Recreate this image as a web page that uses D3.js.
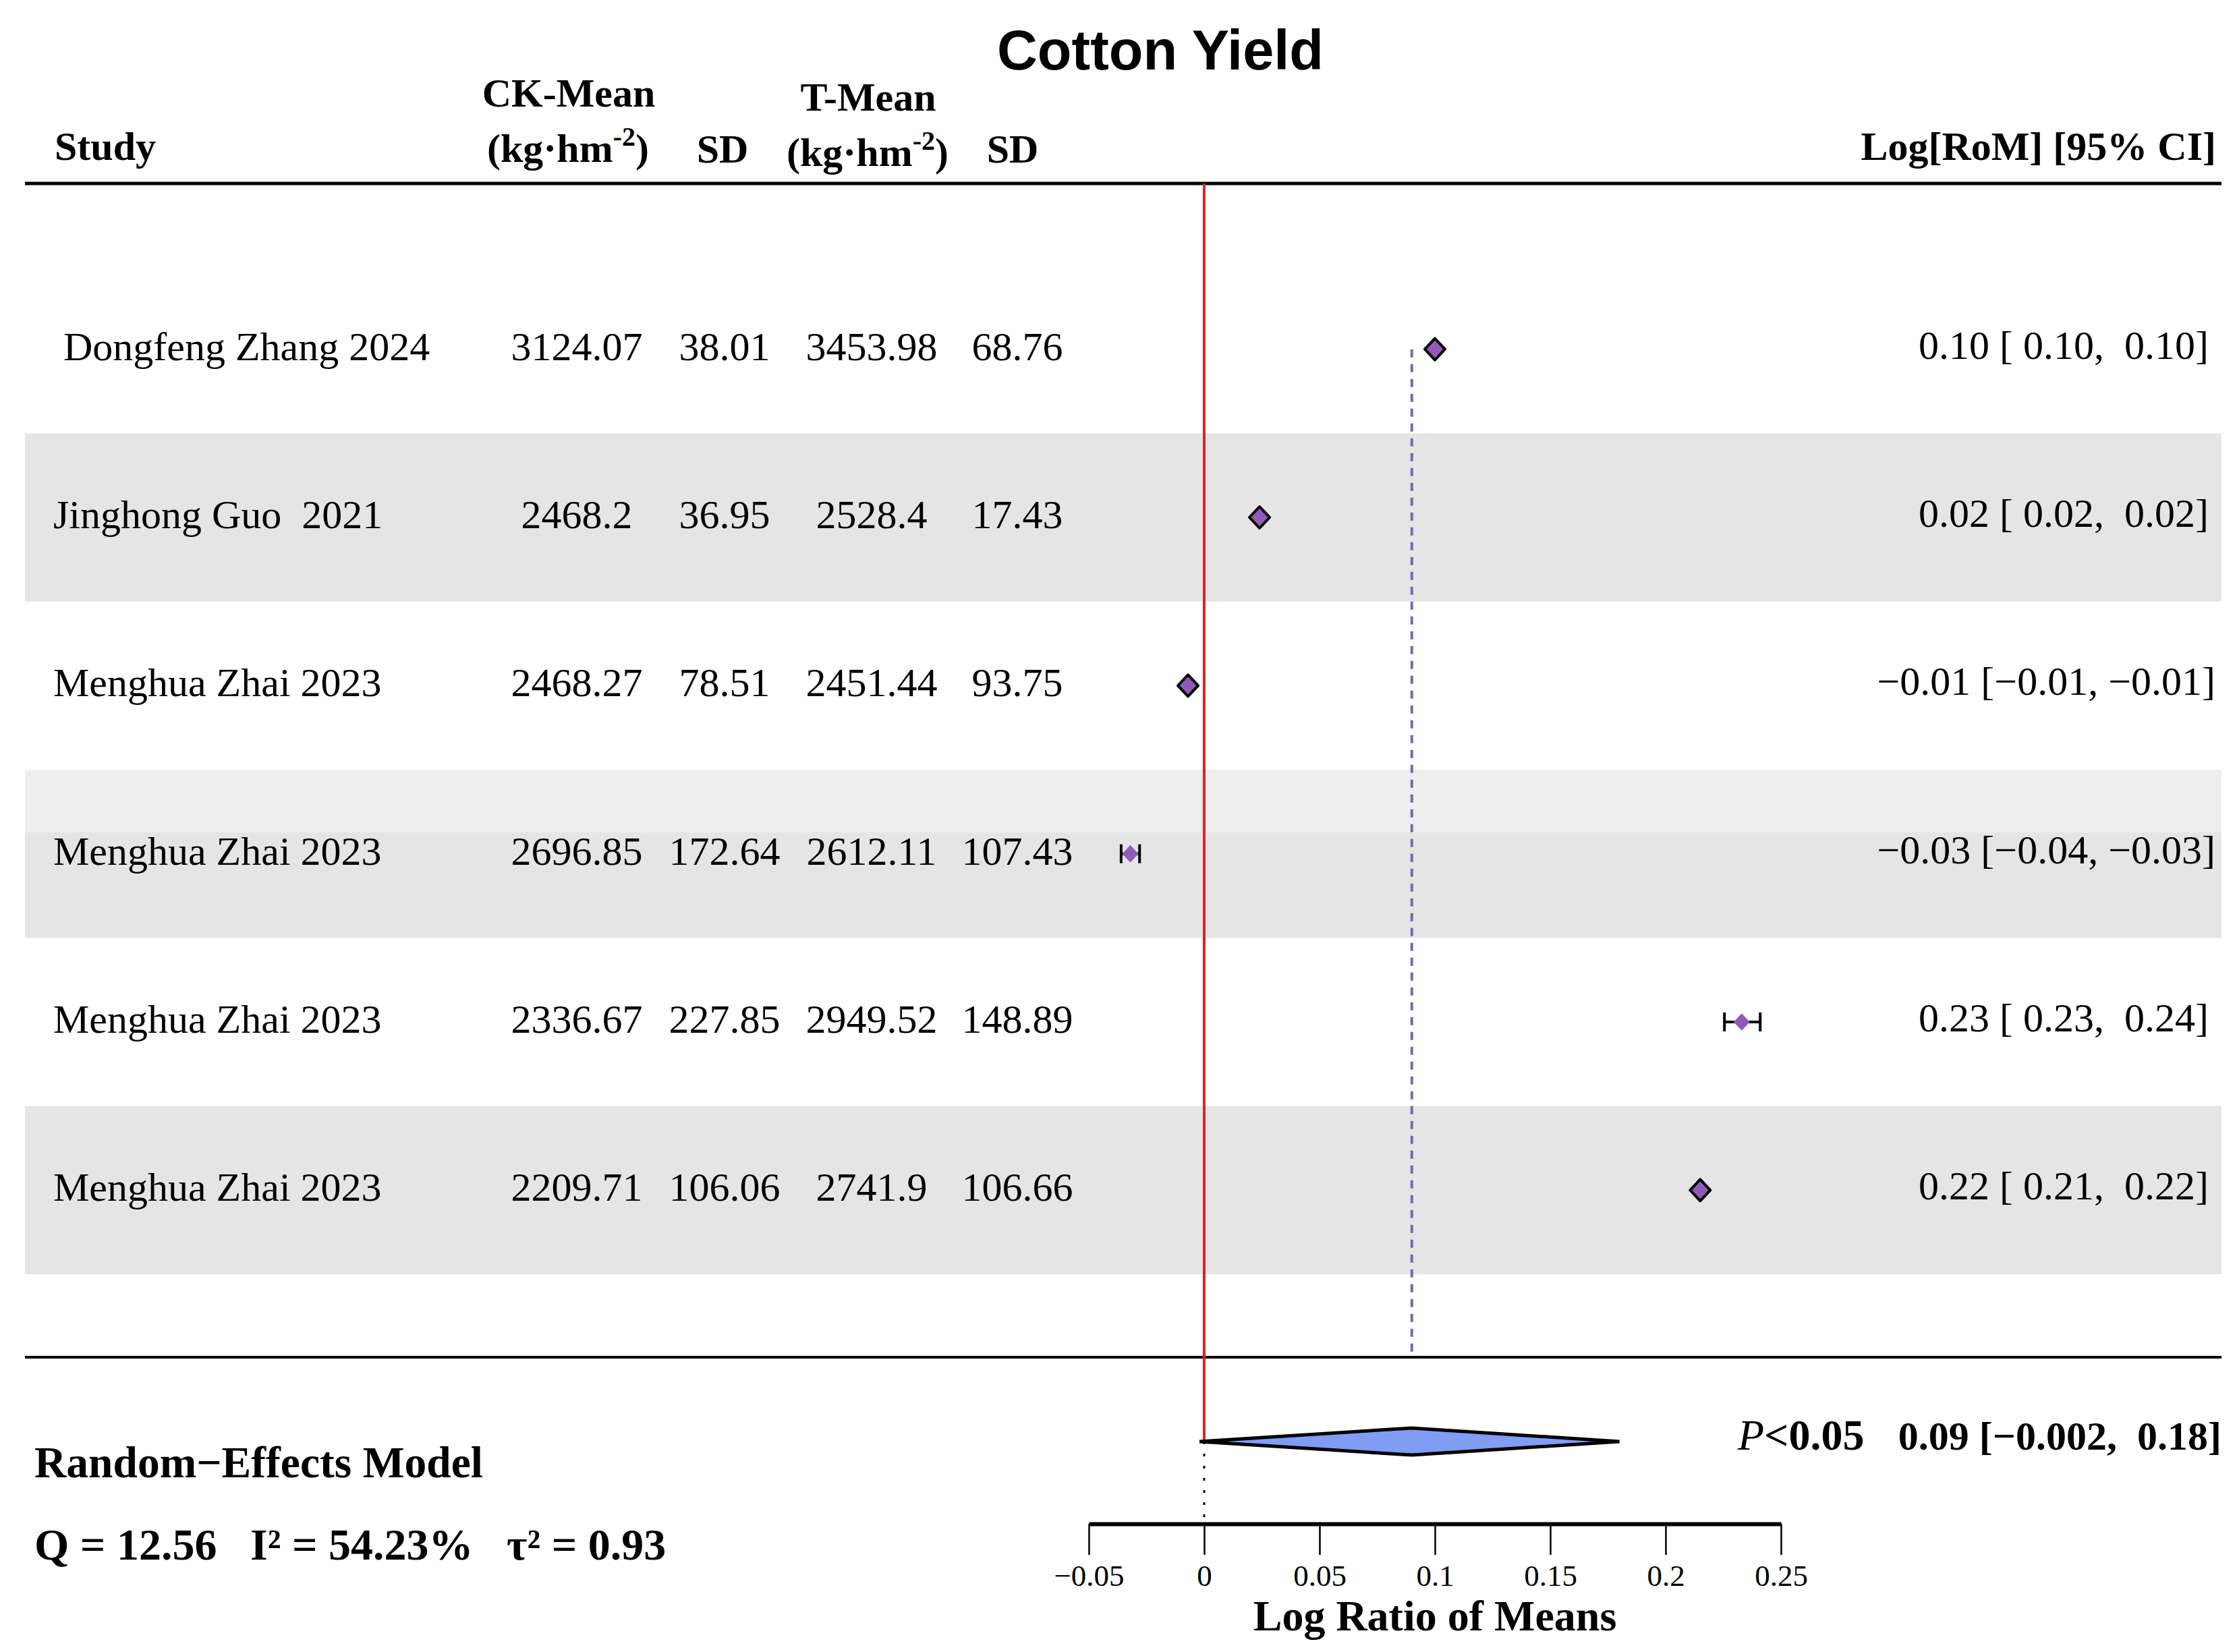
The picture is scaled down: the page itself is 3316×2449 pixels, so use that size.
<!DOCTYPE html>
<html>
<head>
<meta charset="utf-8">
<script src="https://cdn.jsdelivr.net/npm/d3@7"></script>
<style>
  body { margin: 0; background: #fff; }
  text { font-family: "Liberation Serif", "Times New Roman", serif; white-space: pre; }
</style>
</head>
<body>
<div id="graph-container"></div>
<script>
const studies = [' Dongfeng Zhang 2024', 'Jinghong Guo  2021', 'Menghua Zhai 2023',
  'Menghua Zhai 2023', 'Menghua Zhai 2023', 'Menghua Zhai 2023'];
const ckMean = [3124.07, 2468.2, 2468.27, 2696.85, 2336.67, 2209.71];
const ckSD = [38.01, 36.95, 78.51, 172.64, 227.85, 106.06];
const tMean = [3453.98, 2528.4, 2451.44, 2612.11, 2949.52, 2741.9];
const tSD = [68.76, 17.43, 93.75, 107.43, 148.89, 106.66];

const logRoM = [0.100, 0.024, -0.007, -0.032, 0.233, 0.215];
const ciLow = [0.098, 0.022, -0.009, -0.036, 0.2255, 0.212];
const ciHigh = [0.102, 0.026, -0.005, -0.028, 0.241, 0.218];
const ciText = ['0.10 [ 0.10,  0.10]', '0.02 [ 0.02,  0.02]', '\u22120.01 [\u22120.01, \u22120.01]',
  '\u22120.03 [\u22120.04, \u22120.03]', '0.23 [ 0.23,  0.24]', '0.22 [ 0.21,  0.22]'];

const summaryEst = 0.09;
const summaryLow = -0.002;
const summaryHigh = 0.18;
const summaryText = '0.09 [\u22120.002,  0.18]';
const modelStats = 'Q = 12.56   I\u00b2 = 54.23%   \u03c4\u00b2 = 0.93';
const xTicks = [-0.05, 0, 0.05, 0.1, 0.15, 0.2, 0.25];

const W = 3316, H = 2449;
const left = 37, right = 3293;
const purple = '#9159b9';

const svg = d3.select('#graph-container')
  .append('svg')
  .attr('width', W)
  .attr('height', H);

svg.append('rect').attr('width', W).attr('height', H).attr('fill', '#fff');

const x = d3.scaleLinear().domain([-0.05, 0.25]).range([1614, 2640]);
const y = d3.scaleBand().domain(d3.range(studies.length)).range([393, 1889]).padding(0);
const yc = i => y(i) + y.bandwidth() / 2;

// alternating row shading
svg.selectAll('rect.band')
  .data(d3.range(studies.length).filter(i => i % 2 === 1))
  .enter().append('rect')
  .attr('class', 'band')
  .attr('x', left)
  .attr('y', i => y(i))
  .attr('width', right - left)
  .attr('height', y.bandwidth())
  .attr('fill', '#e5e5e5');
// lighter strip at top of the fourth row
svg.append('rect')
  .attr('x', left).attr('y', y(3))
  .attr('width', right - left).attr('height', 93)
  .attr('fill', '#eeeeee');

// title
svg.append('text')
  .attr('x', 1720).attr('y', 103)
  .attr('text-anchor', 'middle')
  .style('font-family', '"Liberation Sans", Arial, sans-serif')
  .attr('font-weight', 'bold')
  .attr('font-size', 83)
  .text('Cotton Yield');

// column headers
const hdr = svg.append('g').attr('font-weight', 'bold').attr('font-size', 60);
hdr.append('text').attr('x', 81).attr('y', 237).text('Study');
hdr.append('text').attr('x', 843).attr('y', 158).attr('text-anchor', 'middle').text('CK-Mean');
hdr.append('text').attr('x', 1287).attr('y', 164).attr('text-anchor', 'middle').text('T-Mean');
hdr.append('text').attr('x', 1071).attr('y', 241).attr('text-anchor', 'middle').text('SD');
hdr.append('text').attr('x', 1501).attr('y', 241).attr('text-anchor', 'middle').text('SD');
[[842, 240], [1286, 246]].forEach(([cx, cy]) => {
  const t = hdr.append('text').attr('x', cx).attr('y', cy).attr('text-anchor', 'middle');
  t.append('tspan').text('(kg\u00b7hm');
  t.append('tspan').attr('dy', -24).attr('font-size', 40).text('-2');
  t.append('tspan').attr('dy', 24).text(')');
});
hdr.append('text').attr('x', 3285).attr('y', 237).attr('text-anchor', 'end').text('Log[RoM] [95% CI]');

// horizontal rules
svg.append('line').attr('x1', left).attr('x2', right).attr('y1', 272).attr('y2', 272)
  .attr('stroke', '#000').attr('stroke-width', 5);
svg.append('line').attr('x1', left).attr('x2', right).attr('y1', 2012).attr('y2', 2012)
  .attr('stroke', '#000').attr('stroke-width', 4);

// table text
const rows = svg.append('g').attr('font-size', 60);
const cols = [
  { vals: ckMean, x: 855 },
  { vals: ckSD, x: 1074 },
  { vals: tMean, x: 1292 },
  { vals: tSD, x: 1508 }
];
rows.selectAll('text.study')
  .data(studies)
  .enter().append('text')
  .attr('class', 'study')
  .attr('x', 79)
  .attr('y', (d, i) => yc(i) + 16)
  .text(d => d);
cols.forEach(c => {
  rows.selectAll(null)
    .data(c.vals)
    .enter().append('text')
    .attr('x', c.x)
    .attr('y', (d, i) => yc(i) + 16)
    .attr('text-anchor', 'middle')
    .text(d => String(d));
});
rows.selectAll('text.ci')
  .data(ciText)
  .enter().append('text')
  .attr('class', 'ci')
  .attr('x', (d) => d.startsWith('\u2212') ? 3284 : 3274)
  .attr('y', (d, i) => yc(i) + 14)
  .attr('text-anchor', 'end')
  .text(d => d);

// reference line at zero and summary estimate line
svg.append('line')
  .attr('x1', x(0)).attr('x2', x(0))
  .attr('y1', 272).attr('y2', 2137)
  .attr('stroke', '#dd2424').attr('stroke-width', 4);
svg.append('line')
  .attr('x1', x(0)).attr('x2', x(0))
  .attr('y1', 2137).attr('y2', 2259)
  .attr('stroke', '#000').attr('stroke-width', 3)
  .attr('stroke-dasharray', '4,14');
svg.append('line')
  .attr('x1', x(summaryEst)).attr('x2', x(summaryEst))
  .attr('y1', yc(0)).attr('y2', 2012)
  .attr('stroke', '#7466c4').attr('stroke-width', 4)
  .attr('stroke-dasharray', '12,10');

// study estimates with CIs
const mw = 15, mh = 16, capH = 14;
const pts = svg.append('g');
logRoM.forEach((v, i) => {
  const cy = yc(i);
  const x0 = x(ciLow[i]), x1 = x(ciHigh[i]);
  const inside = (x1 - x0) / 2 < 12;
  if (!inside) {
    pts.append('line').attr('x1', x0).attr('x2', x1).attr('y1', cy).attr('y2', cy)
      .attr('stroke', '#000').attr('stroke-width', 4);
    [x0, x1].forEach(cx => pts.append('line')
      .attr('x1', cx).attr('x2', cx).attr('y1', cy - capH).attr('y2', cy + capH)
      .attr('stroke', '#000').attr('stroke-width', 4));
  }
  const s = inside ? 1 : 0.8;
  pts.append('path')
    .attr('d', `M${x(v)},${cy - mh * s} L${x(v) + mw * s},${cy} L${x(v)},${cy + mh * s} L${x(v) - mw * s},${cy} Z`)
    .attr('fill', purple)
    .attr('stroke', inside ? '#000' : 'none')
    .attr('stroke-width', 4)
    .attr('stroke-linejoin', 'round');
});

// summary diamond
const sy = 2137;
svg.append('path')
  .attr('d', `M${x(summaryLow)},${sy} L${x(summaryEst)},${sy - 20} L${x(summaryHigh)},${sy} L${x(summaryEst)},${sy + 20} Z`)
  .attr('fill', '#809cf3')
  .attr('stroke', '#000')
  .attr('stroke-width', 5)
  .attr('stroke-linejoin', 'miter');

const p = svg.append('text').attr('x', 2576).attr('y', 2149).attr('font-size', 64);
p.append('tspan').attr('font-style', 'italic').text('P');
p.append('tspan').attr('font-weight', 'bold').text('<0.05');
svg.append('text')
  .attr('x', 3293).attr('y', 2149)
  .attr('text-anchor', 'end')
  .attr('font-size', 60)
  .attr('font-weight', 'bold')
  .text(summaryText);

svg.append('text').attr('x', 51).attr('y', 2190)
  .attr('font-size', 65.5).attr('font-weight', 'bold')
  .text('Random\u2212Effects Model');
svg.append('text').attr('x', 51).attr('y', 2312)
  .attr('font-size', 66).attr('font-weight', 'bold')
  .text(modelStats);

// x axis
const axis = svg.append('g')
  .attr('transform', 'translate(0,2259)')
  .call(d3.axisBottom(x).tickValues(xTicks).tickSize(46).tickSizeOuter(0).tickPadding(14)
    .tickFormat(d3.format('~g')));
axis.select('.domain').attr('stroke-width', 6);
axis.selectAll('.tick line').attr('stroke-width', 2.5);
axis.selectAll('.tick text')
  .attr('font-size', 45)
  .style('font-family', '"Liberation Serif", "Times New Roman", serif');

svg.append('text')
  .attr('x', x(0.1)).attr('y', 2417)
  .attr('text-anchor', 'middle')
  .attr('font-size', 64).attr('font-weight', 'bold')
  .text('Log Ratio of Means');
</script>
</body>
</html>
